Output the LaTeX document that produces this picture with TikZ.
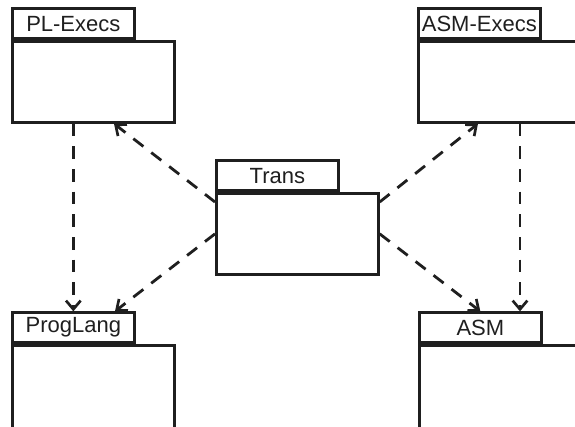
\documentclass[tikz,border=0pt]{standalone}
\usepackage{fontspec}
\setmainfont{Liberation Sans}
\usetikzlibrary{arrows.meta,calc}
\begin{document}
\begin{tikzpicture}[x=0.75pt,y=-0.75pt,
  pkgline/.style={draw=black!88, line width=2pt},
  tabbox/.style={pkgline, rectangle, minimum width=122*0.75pt, minimum height=30*0.75pt, inner sep=0pt, anchor=south west, font=\fontsize{16.5pt}{18pt}\selectfont, text=black!88},
  bodybox/.style={pkgline, rectangle, minimum width=162*0.75pt, minimum height=81*0.75pt, inner sep=0pt, anchor=north west},
  dep/.style={draw=black!88, line width=2.1pt, dash pattern=on 9.5pt off 7.5pt, -{Straight Barb[length=6.5pt,width=11pt,line width=2pt]}}]
\clip (0,0) rectangle (575,426);
\fill[white] (0,0) rectangle (575,426);
% PL-Execs
\node[tabbox] (pltab) at (11,40) {PL-Execs};
\node[bodybox] (plbody) at (11,40) {};
% ASM-Execs
\node[tabbox] (aetab) at (417,40) {ASM-Execs};
\node[bodybox, minimum width=200*0.75pt] (aebody) at (417,40) {};
% Trans
\node[tabbox] (trtab) at (215,192) {Trans};
\node[bodybox] (trbody) at (215,192) {};
% ProgLang
\node[tabbox] (pgtab) at (11,344) {ProgLang};
\node[bodybox, minimum height=120*0.75pt] (pgbody) at (11,344) {};
% ASM
\node[tabbox] (asmtab) at (418,344) {ASM};
\node[bodybox, minimum width=200*0.75pt, minimum height=120*0.75pt] (asmbody) at (418,344) {};
% connectors
\draw[dep] (pltab.center |- plbody.south) -- (pgtab.north);
\draw[dep] ($(aebody.south west)+(103,0)$) -- ($(asmtab.north west)+(102,0)$);
\draw[dep] ($(trbody.north west)+(0,10)$) -- ($(plbody.south west)+(103,0)$);
\draw[dep] (trbody.west) -- ($(pgtab.north west)+(104,0)$);
\draw[dep] ($(trbody.north east)+(0,10)$) -- ($(aebody.south west)+(61,0)$);
\draw[dep] (trbody.east) -- (asmtab.north);
\end{tikzpicture}
\end{document}
